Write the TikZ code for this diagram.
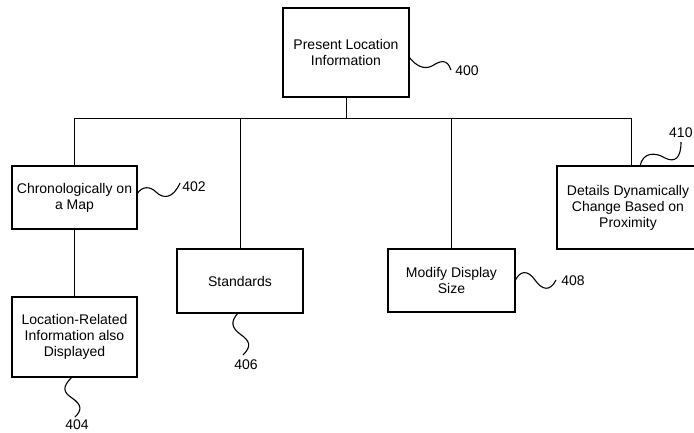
\documentclass[tikz,border=0pt]{standalone}
\usepackage{fontspec}
\setmainfont{Liberation Sans}
\begin{document}
\begin{tikzpicture}[x=1pt,y=-1pt,
  box/.style={draw, line width=1.2pt, align=center, inner sep=0pt,
    font=\fontsize{14}{16}\selectfont},
  wire/.style={line width=1pt},
  lead/.style={line width=1.1pt},
  ref/.style={font=\fontsize{14}{16}\selectfont, inner sep=0pt}]
\useasboundingbox (0,0) rectangle (694,433);
\clip (0,0) rectangle (694,433);

% boxes
\node[box, minimum width=126pt, minimum height=89pt] (top) at (346,52.5) {Present Location\\Information};
\node[box, minimum width=125pt, minimum height=63pt] (n402) at (74.5,197.5) {Chronologically on\\a Map};
\node[box, minimum width=125pt, minimum height=80pt] (n404) at (74.5,337) {Location-Related\\Information also\\Displayed};
\node[box, minimum width=126pt, minimum height=64pt] (n406) at (240,281) {Standards};
\node[box, minimum width=127pt, minimum height=63pt] (n408) at (451.5,280.5) {Modify Display\\Size};
\node[box, minimum width=142pt, minimum height=83pt] (n410) at (628,207.5) {Details Dynamically\\Change Based on\\Proximity};

% tree of connectors
\coordinate (bus) at (0,119);
\coordinate (b410) at ([xshift=3pt]n410.north);
\draw[wire] (n402.north) -- (n402.north |- bus) -- (b410 |- bus) -- (b410);
\draw[wire] (top.south) -- (top.south |- bus);
\draw[wire] (n406.north) -- (n406.north |- bus);
\draw[wire] (n408.north) -- (n408.north |- bus);
\draw[wire] (n402.south) -- (n404.north);

% reference labels
\node[ref] (r400) at (467,71) {400};
\node[ref] (r402) at (194,187) {402};
\node[ref] (r404) at (77,425) {404};
\node[ref] (r406) at (246,365) {406};
\node[ref] (r408) at (573,281) {408};
\node[ref, anchor=west] (r410) at (669,133) {410};

% wavy lead lines
\draw[lead] (409,57) .. controls (416,66) and (424,70) .. (432,66) .. controls (440,61) and (447,58) .. (451,70);
\draw[lead] (137,194) .. controls (142,186) and (150,186) .. (156,192) .. controls (163,199) and (173,199) .. (180,183);
\draw[lead] (72,377) .. controls (62,387) and (63,392) .. (72,398) .. controls (82,405) and (82,410) .. (75,417);
\draw[lead] (238,313) .. controls (230,322) and (232,328) .. (240,334) .. controls (250,341) and (252,346) .. (243,355);
\draw[lead] (515,281) .. controls (520,270) and (528,270) .. (535,280) .. controls (542,290) and (550,292) .. (556,280);
\draw[lead] (640,166) .. controls (643,152) and (655,152) .. (665,158) .. controls (675,163) and (681,158) .. (681,142);
\end{tikzpicture}
\end{document}
